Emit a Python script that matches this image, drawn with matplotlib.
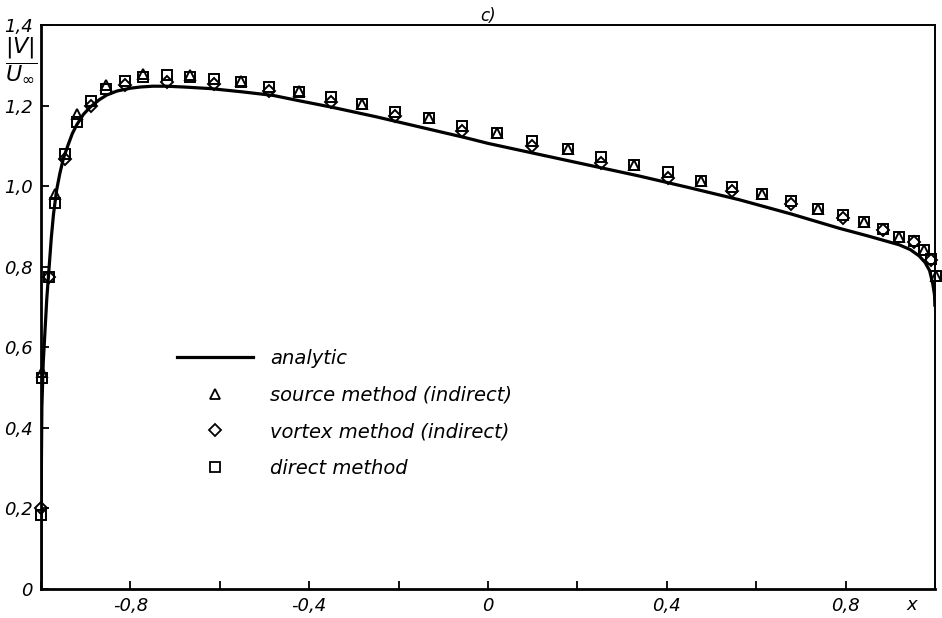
import matplotlib
matplotlib.use("Agg")
import matplotlib.pyplot as plt
from matplotlib.lines import Line2D

plt.rcParams['font.family'] = ['DejaVu Sans']
plt.rcParams['mathtext.fontset'] = 'dejavusans'

# ---------------- data ----------------
ana_x = [-1.0, -0.9995, -0.998, -0.995, -0.991, -0.987, -0.983, -0.977, -0.972,
         -0.965, -0.958, -0.95, -0.94, -0.93, -0.92, -0.905, -0.89, -0.87,
         -0.853, -0.83, -0.80, -0.778, -0.75, -0.72, -0.68, -0.62, -0.55,
         -0.48, -0.423, -0.35, -0.25, -0.15, -0.05, 0.0, 0.1, 0.2, 0.338,
         0.45, 0.562, 0.68, 0.786, 0.85, 0.92, 0.945, 0.965, 0.978, 0.988,
         0.995, 0.999, 1.0]
ana_v = [0.0, 0.25, 0.45, 0.56, 0.64, 0.72, 0.78, 0.87, 0.93,
         0.99, 1.03, 1.068, 1.10, 1.13, 1.152, 1.178, 1.196, 1.214,
         1.226, 1.236, 1.243, 1.246, 1.248, 1.248, 1.246, 1.242, 1.234,
         1.225, 1.212, 1.196, 1.172, 1.146, 1.12, 1.106, 1.082, 1.058, 1.025,
         0.996, 0.966, 0.93, 0.895, 0.876, 0.854, 0.842, 0.826, 0.81, 0.79,
         0.758, 0.73, 0.70]

direct_x = [-1.000, -0.997, -0.983, -0.968, -0.947, -0.920, -0.888, -0.855,
            -0.813, -0.772, -0.718, -0.667, -0.614, -0.553, -0.490, -0.423,
            -0.352, -0.282, -0.207, -0.132, -0.058, 0.021, 0.098, 0.178,
            0.252, 0.327, 0.402, 0.476, 0.545, 0.614, 0.678, 0.738, 0.794,
            0.841, 0.883, 0.920, 0.954, 0.976, 0.991, 1.003]
direct_v = [0.182, 0.522, 0.775, 0.958, 1.079, 1.158, 1.211, 1.240, 1.262,
            1.271, 1.277, 1.272, 1.267, 1.258, 1.246, 1.233, 1.221, 1.204,
            1.185, 1.168, 1.148, 1.132, 1.112, 1.091, 1.071, 1.052, 1.034,
            1.013, 0.997, 0.979, 0.964, 0.943, 0.927, 0.910, 0.893, 0.873,
            0.864, 0.841, 0.818, 0.777]

source_x = [-0.997, -0.968, -0.920, -0.855, -0.772, -0.667, -0.553, -0.423,
            -0.282, -0.132, 0.021, 0.178, 0.327, 0.476, 0.614, 0.738, 0.841,
            0.920, 0.976, 1.003]
source_v = [0.538, 0.980, 1.179, 1.252, 1.279, 1.277, 1.260, 1.235, 1.204,
            1.168, 1.132, 1.091, 1.052, 1.013, 0.979, 0.943, 0.910, 0.873,
            0.841, 0.777]

vortex_x = [-1.000, -0.983, -0.947, -0.888, -0.813, -0.718, -0.614, -0.490,
            -0.352, -0.207, -0.058, 0.098, 0.252, 0.402, 0.545, 0.678, 0.794,
            0.883, 0.954, 0.991]
vortex_v = [0.199, 0.775, 1.068, 1.200, 1.252, 1.258, 1.254, 1.237, 1.208,
            1.173, 1.137, 1.100, 1.058, 1.021, 0.987, 0.955, 0.920, 0.890,
            0.860, 0.815]

xtick_vals = [-1.0, -0.8, -0.6, -0.4, -0.2, 0.0, 0.2, 0.4, 0.6, 0.8, 1.0]
xtick_labels = ['', '-0,8', '', '-0,4', '', '0', '', '0,4', '', '0,8', '']
ytick_vals = [0.0, 0.2, 0.4, 0.6, 0.8, 1.0, 1.2, 1.4]
ytick_labels = ['0', '0,2', '0,4', '0,6', '0,8', '1,0', '1,2', '1,4']

legend_labels = ['analytic', 'source method (indirect)',
                 'vortex method (indirect)', 'direct method']

# ---------------- figure ----------------
fig = plt.figure(figsize=(9.42, 6.18), dpi=100)
ax = fig.add_axes([0.0435, 0.0477, 0.949, 0.9118])

ax.plot(ana_x, ana_v, color='black', lw=2.3, solid_capstyle='butt', zorder=3)

mk = dict(linestyle='none', markerfacecolor='none', markeredgecolor='black',
          markeredgewidth=1.4, clip_on=False, zorder=4)
ax.plot(direct_x, direct_v, marker='s', markersize=7.5, **mk)
ax.plot(source_x, source_v, marker='^', markersize=7.5, **mk)
ax.plot(vortex_x, vortex_v, marker='D', markersize=6, **mk)

ax.set_xlim(-1.0, 1.0)
ax.set_ylim(0.0, 1.4)
ax.set_xticks(xtick_vals)
ax.set_xticklabels(xtick_labels)
ax.set_yticks(ytick_vals)
ax.set_yticklabels(ytick_labels)
ax.tick_params(direction='in', length=6, width=1.3, labelsize=13, pad=6)
for lab in ax.get_xticklabels() + ax.get_yticklabels():
    lab.set_fontstyle('italic')

for side in ['left', 'bottom']:
    ax.spines[side].set_linewidth(2.0)
for side in ['top', 'right']:
    ax.spines[side].set_linewidth(1.4)

ax.set_title('c)', fontsize=12, fontstyle='italic', pad=3)

ax.text(0.974, -0.03, 'x', transform=ax.transAxes, fontsize=13,
        fontstyle='italic', ha='center', va='center')
ax.text(-0.022, 0.938, r'$\dfrac{|V|}{U_{\infty}}$', transform=ax.transAxes,
        fontsize=16, ha='center', va='center')

handles = [
    Line2D([], [], color='black', lw=2.3),
    Line2D([], [], ls='none', marker='^', markersize=7, markerfacecolor='none',
           markeredgecolor='black', markeredgewidth=1.3),
    Line2D([], [], ls='none', marker='D', markersize=6, markerfacecolor='none',
           markeredgecolor='black', markeredgewidth=1.3),
    Line2D([], [], ls='none', marker='s', markersize=7, markerfacecolor='none',
           markeredgecolor='black', markeredgewidth=1.3),
]
leg = ax.legend(handles, legend_labels, loc='upper left',
                bbox_to_anchor=(0.152, 0.425), frameon=False,
                prop={'size': 14, 'style': 'italic'},
                handlelength=3.9, handletextpad=0.88, labelspacing=0.9,
                borderpad=0, borderaxespad=0)

fig.savefig('out.png', dpi=100)
